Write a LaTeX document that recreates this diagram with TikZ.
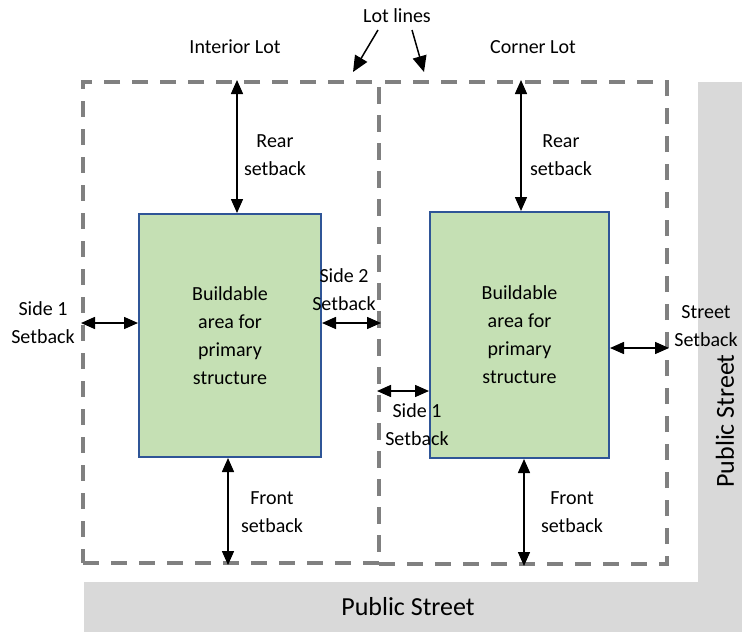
\documentclass[tikz,border=0pt]{standalone}
\usepackage{fontspec}
\setmainfont{Carlito}
\usetikzlibrary{arrows.meta,calc}
\definecolor{streetgray}{RGB}{217,217,217}
\definecolor{lotgray}{RGB}{128,128,128}
\definecolor{buildgreen}{RGB}{197,224,180}
\definecolor{buildblue}{RGB}{47,85,151}
\tikzset{
  lotbox/.style={draw=lotgray, line width=4pt, dash pattern=on 16pt off 12pt, rectangle, inner sep=0pt},
  buildbox/.style={draw=buildblue, fill=buildgreen, line width=2pt, rectangle, inner sep=0pt,
     align=center, font=\fontsize{20pt}{28pt}\selectfont},
  lbl/.style={align=center, font=\fontsize{20pt}{28pt}\selectfont, inner sep=0pt},
  streetlbl/.style={font=\fontsize{26pt}{30pt}\selectfont, inner sep=0pt},
  dbl/.style={{Triangle[length=14pt,width=12pt]}-{Triangle[length=14pt,width=12pt]}, line width=1.5pt},
  sgl/.style={-{Triangle[length=16pt,width=14pt]}, line width=1.5pt}
}
\begin{document}
\begin{tikzpicture}[x=1pt,y=-1pt]
\useasboundingbox (0,0) rectangle (742,632);
% streets
\fill[streetgray] (698,82) -- (742,82) -- (742,632) -- (84,632) -- (84,582) -- (698,582) -- cycle;
\node[streetlbl] (ps1) at (408,607) {Public Street};
\node[streetlbl, rotate=90] (ps2) at (725,421) {Public Street};
% lots
\node[lotbox, minimum width=296pt, minimum height=481pt] (L) at (231,322.5) {};
\node[lotbox, minimum width=288pt, minimum height=482pt] (R) at (523,323) {};
% buildable areas
\node[buildbox, minimum width=182pt, minimum height=243pt] (B1) at (230,335.5) {Buildable\\area for\\primary\\structure};
\node[buildbox, minimum width=179pt, minimum height=246pt] (B2) at (519.5,335) {Buildable\\area for\\primary\\structure};
% labels
\node[lbl] (int) at (235,47) {Interior Lot};
\node[lbl] (cor) at (533,47) {Corner Lot};
\node[lbl] (ll) at (397,16) {Lot lines};
\node[lbl] (r1) at (275,155) {Rear\\setback};
\node[lbl] (f1) at (272,512) {Front\\setback};
\node[lbl] (s1) at (43,323) {Side 1\\Setback};
\node[lbl] (s2) at (344,290) {Side 2\\Setback};
\node[lbl] (r2) at (561,155) {Rear\\setback};
\node[lbl] (f2) at (572,512) {Front\\setback};
\node[lbl] (s3) at (417,425) {Side 1\\Setback};
\node[lbl] (st) at (706,326) {Street\\Setback};
% coordinates for arrows
\coordinate (xr1) at (237,0);
\coordinate (xf1) at (228,0);
\coordinate (xr2) at (521,0);
\coordinate (xf2) at (524,0);
\coordinate (ys1) at (0,323);
\coordinate (ys3) at (0,391);
\coordinate (yst) at (0,348);
\coordinate (la1) at (378,30);
\coordinate (lb1) at (353,72);
\coordinate (la2) at (412,30);
\coordinate (lb2) at (424,72);
% setback arrows
\draw[dbl] (L.north -| xr1) -- (B1.north -| xr1);
\draw[dbl] (B1.south -| xf1) -- (L.south -| xf1);
\draw[dbl] (L.west |- ys1) -- (B1.west |- ys1);
\draw[dbl] (B1.east |- ys1) -- (L.east |- ys1);
\draw[dbl] (R.north -| xr2) -- (B2.north -| xr2);
\draw[dbl] (B2.south -| xf2) -- (R.south -| xf2);
\draw[dbl] (R.west |- ys3) -- (B2.west |- ys3);
\draw[dbl] (B2.east |- yst) -- (R.east |- yst);
% lot line arrows
\draw[sgl] (la1) -- (lb1);
\draw[sgl] (la2) -- (lb2);
\end{tikzpicture}
\end{document}
